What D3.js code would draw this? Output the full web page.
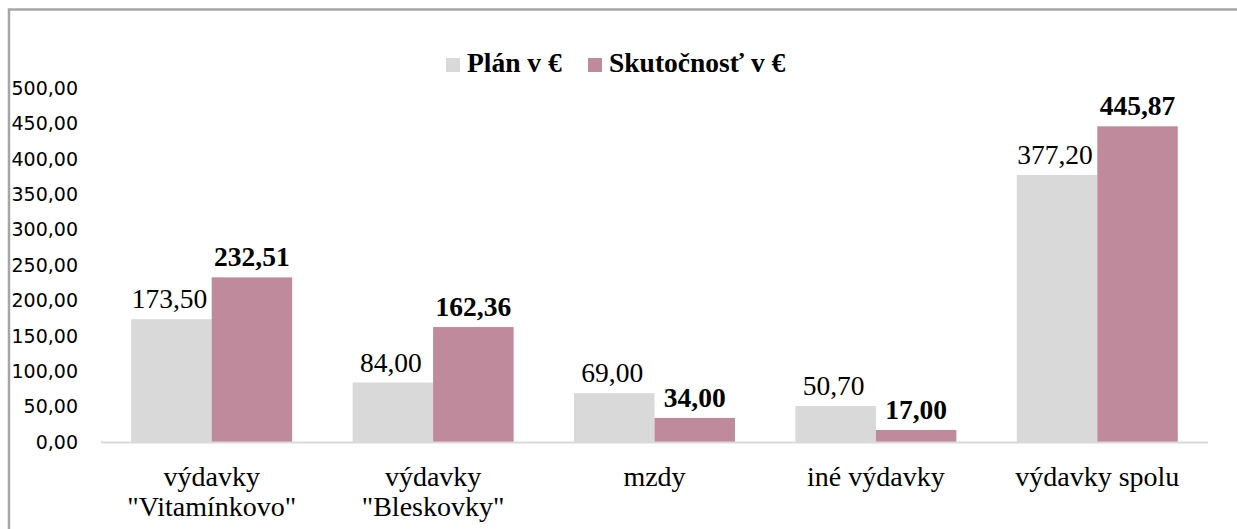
<!DOCTYPE html>
<html>
<head>
<meta charset="utf-8">
<script src="https://cdn.jsdelivr.net/npm/d3@7"></script>
<style>
  body { margin: 0; background: #fff; }
  svg { display: block; }
  .serif { font-family: "Liberation Serif", "Times New Roman", serif; }
  .sans { font-family: "DejaVu Sans", Verdana, sans-serif; }
</style>
</head>
<body>
<svg id="chart" width="1237" height="529"></svg>
<script>
const categories = ['výdavky\n"Vitamínkovo"', 'výdavky\n"Bleskovky"', 'mzdy', 'iné výdavky', 'výdavky spolu'];
const planValues = [173.50, 84.00, 69.00, 50.70, 377.20];
const actualValues = [232.51, 162.36, 34.00, 17.00, 445.87];
const seriesNames = ['Plán v €', 'Skutočnosť v €'];
const yTicks = [0, 50, 100, 150, 200, 250, 300, 350, 400, 450, 500];

const COLORS = ['#d9d9d9', '#bf8a9c'];

const svg = d3.select('#chart');
const margin = { left: 101, right: 29, top: 88, bottom: 87 };
const width = 1237, height = 529;

const fmt = (v) => d3.format('.2f')(v).replace('.', ',');

// outer frame (top and left edges visible)
svg.append('path')
  .attr('d', `M9,${height} V9.5 H${width}`)
  .attr('fill', 'none')
  .attr('stroke', '#a6a6a6')
  .attr('stroke-width', 2.5);

const x = d3.scaleBand()
  .domain(categories)
  .range([margin.left, width - margin.right])
  .paddingInner(0.273)
  .paddingOuter(0.1365);

const xSub = d3.scaleBand()
  .domain([0, 1])
  .range([0, x.bandwidth()]);

const y = d3.scaleLinear()
  .domain([0, 500])
  .range([height - margin.bottom, margin.top]);

// y tick labels only
svg.append('g')
  .selectAll('text')
  .data(yTicks)
  .join('text')
  .attr('class', 'sans')
  .attr('x', 78)
  .attr('y', d => y(d))
  .attr('dy', '0.36em')
  .attr('text-anchor', 'end')
  .attr('font-size', 19)
  .attr('fill', '#000')
  .text(fmt);

const series = [planValues, actualValues];

const groups = svg.append('g')
  .selectAll('g')
  .data(categories)
  .join('g')
  .attr('transform', d => `translate(${x(d)},0)`);

groups.selectAll('rect')
  .data((d, i) => series.map((s, j) => ({ j, v: s[i] })))
  .join('rect')
  .attr('x', d => xSub(d.j))
  .attr('y', d => y(d.v))
  .attr('width', xSub.bandwidth())
  .attr('height', d => y(0) - y(d.v))
  .attr('fill', d => COLORS[d.j]);

// value labels
groups.selectAll('text.val')
  .data((d, i) => series.map((s, j) => ({ j, v: s[i] })))
  .join('text')
  .attr('class', 'val serif')
  .attr('x', d => xSub(d.j) + xSub.bandwidth() / 2 + (d.j === 0 ? -2 : 0))
  .attr('y', d => y(d.v) - 11)
  .attr('text-anchor', 'middle')
  .attr('font-size', 27.5)
  .attr('font-weight', d => d.j === 1 ? 'bold' : 'normal')
  .attr('fill', '#000')
  .text(d => fmt(d.v));

// x axis line
svg.append('line')
  .attr('x1', margin.left)
  .attr('x2', width - margin.right)
  .attr('y1', y(0) + 0.5)
  .attr('y2', y(0) + 0.5)
  .attr('stroke', '#d9d9d9')
  .attr('stroke-width', 2);

// category labels
svg.append('g')
  .selectAll('text')
  .data(categories)
  .join('text')
  .attr('class', 'serif')
  .attr('x', d => x(d) + x.bandwidth() / 2)
  .attr('y', y(0) + 44)
  .attr('text-anchor', 'middle')
  .attr('font-size', 28)
  .attr('fill', '#000')
  .each(function (d) {
    d3.select(this).selectAll('tspan')
      .data(d.split('\n'))
      .join('tspan')
      .attr('x', x(d) + x.bandwidth() / 2)
      .attr('dy', (_t, i) => i === 0 ? 0 : 30)
      .text(t => t);
  });

// legend
const legend = svg.append('g').attr('transform', 'translate(446,58)');
const legendX = [0, 142];
seriesNames.forEach((name, i) => {
  const g = legend.append('g').attr('transform', `translate(${legendX[i]},0)`);
  g.append('rect')
    .attr('width', 14)
    .attr('height', 14)
    .attr('fill', COLORS[i]);
  g.append('text')
    .attr('class', 'serif')
    .attr('x', 21)
    .attr('y', 14)
    .attr('font-size', 27.5)
    .attr('font-weight', 'bold')
    .attr('fill', '#000')
    .text(name);
});
</script>
</body>
</html>
